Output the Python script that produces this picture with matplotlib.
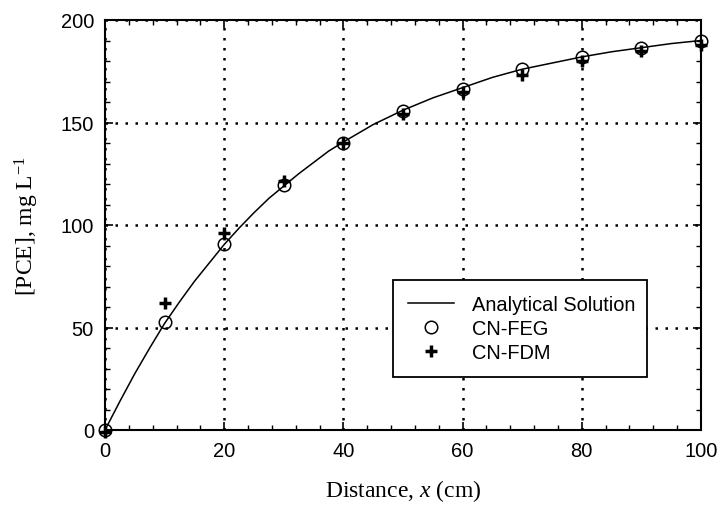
import matplotlib
matplotlib.use("Agg")
import matplotlib.pyplot as plt
from matplotlib.ticker import MultipleLocator

plt.rcParams["mathtext.fontset"] = "custom"
plt.rcParams["mathtext.it"] = "Liberation Serif:italic"
plt.rcParams["mathtext.rm"] = "Liberation Serif"
plt.rcParams["mathtext.sf"] = "Liberation Serif"

# Analytical solution
x_line = [0, 2.5, 5, 7.5, 10, 12.5, 15, 17.5, 20, 22.5, 25, 27.5, 30, 32.5, 35, 37.5, 40,
          45, 50, 55, 60, 65, 70, 75, 80, 85, 90, 95, 100]
c_line = [0, 14, 27.5, 40, 52, 62.5, 72.5, 81.5, 90.5, 98.5, 106, 113, 119, 125, 130.5, 136, 140.5,
          149, 156, 162, 167, 172, 176, 179, 182, 184.5, 186.5, 188.5, 190]

# Numerical points
x_pts = [0, 10, 20, 30, 40, 50, 60, 70, 80, 90, 100]
c_feg = [0, 52.5, 90.5, 119.5, 140, 155.5, 166.5, 176, 182, 186.5, 190]
c_fdm = [-1, 62, 96, 121.5, 140, 154, 165, 173, 180, 185, 188]

fig = plt.figure(figsize=(7.21, 5.10), dpi=100)
ax = fig.add_axes([105/721, 1-431/510, (701-105)/721, (431-21)/510])

ax.plot(x_line, c_line, color="black", lw=1.1, label="Analytical Solution", zorder=3)
ax.plot(x_pts, c_feg, ls="none", marker="o", ms=9, mfc="none", mec="black", mew=1.1,
        label="CN-FEG", clip_on=False, zorder=4)
ax.plot(x_pts, c_fdm, ls="none", marker="+", ms=9, mec="black", mew=2.5,
        label="CN-FDM", clip_on=False, zorder=5)

ax.set_xlim(0, 100)
ax.set_ylim(0, 200)
ax.xaxis.set_major_locator(MultipleLocator(20))
ax.xaxis.set_minor_locator(MultipleLocator(4))
ax.yaxis.set_major_locator(MultipleLocator(50))
ax.yaxis.set_minor_locator(MultipleLocator(10))
ax.tick_params(which="both", direction="in", top=True, right=True, color="black")
ax.tick_params(which="major", length=6, width=1.2, labelsize=14.5, pad=8)
ax.tick_params(which="minor", length=3.5, width=1.0)
for lab in ax.get_xticklabels() + ax.get_yticklabels():
    lab.set_fontfamily(["Liberation Sans", "DejaVu Sans"])
for s in ax.spines.values():
    s.set_linewidth(1.5)

ax.grid(True, which="major", color="black", ls=(0, (1, 3)), lw=1.8)

ax.set_xlabel("Distance, $\\mathit{x}$ (cm)", fontsize=17, family="Liberation Serif", labelpad=12)
ax.set_ylabel("[PCE], mg L$^{\\mathregular{-1}}$", fontsize=17, family="Liberation Serif", labelpad=14)

leg = ax.legend(loc="lower left", bbox_to_anchor=(0.483, 0.129, 0.426, 0.251), mode="expand",
                fancybox=False, framealpha=1, edgecolor="black", borderaxespad=0,
                prop={"family": "Liberation Sans", "size": 14.4}, handlelength=2.3,
                labelspacing=0.25, borderpad=0.75, handletextpad=0.9)
leg.get_frame().set_linewidth(1.3)

fig.savefig("out.png", dpi=100)
